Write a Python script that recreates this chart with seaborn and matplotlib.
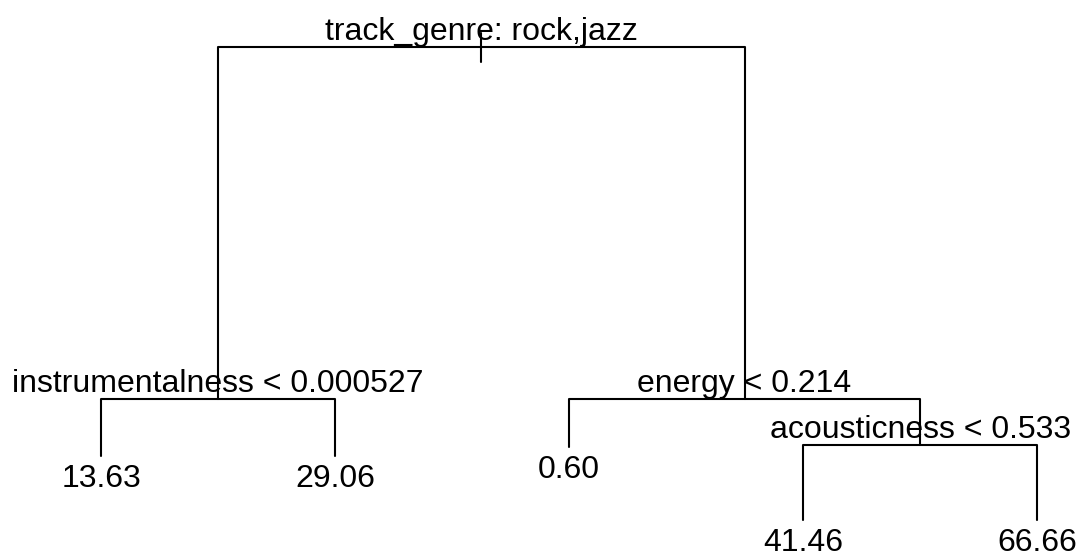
import matplotlib
matplotlib.use("Agg")
import matplotlib.pyplot as plt
import seaborn as sns
import pandas as pd

# Regression tree (rpart-style node numbering: children of n are 2n and 2n+1)
node_ids = [1, 2, 3, 4, 5, 6, 7, 14, 15]
node_labels = [
    "track_genre: rock,jazz",
    "instrumentalness < 0.000527",
    "energy < 0.214",
    "13.63",
    "29.06",
    "0.60",
    "acousticness < 0.533",
    "41.46",
    "66.66",
]
# vertical position of each node (scaled deviance)
node_height = [1.0, 0.307, 0.307, 0.195, 0.195, 0.213, 0.217, 0.069, 0.069]

sns.set_theme(style="white")
plt.rcParams["font.family"] = ["Liberation Sans", "DejaVu Sans"]

height = dict(zip(node_ids, node_height))
label = dict(zip(node_ids, node_labels))
is_leaf = {n: (2 * n not in height) for n in node_ids}

# leaves get consecutive positions in order; splits sit midway over children
xpos = {}
counter = [0]


def place(n):
    if is_leaf[n]:
        counter[0] += 1
        xpos[n] = float(counter[0])
    else:
        place(2 * n)
        place(2 * n + 1)
        xpos[n] = (xpos[2 * n] + xpos[2 * n + 1]) / 2


place(1)

# elbow branches: parent -> across at parent's height -> down to child
rows = []
for n in node_ids:
    if n == 1:
        continue
    p = n // 2
    for k, (x, y) in enumerate([(xpos[p], height[p]), (xpos[n], height[p]), (xpos[n], height[n])]):
        rows.append({"edge": n, "order": k, "x": x, "y": y})
# short stem through the root
rows.append({"edge": 1, "order": 0, "x": xpos[1], "y": height[1] + 0.028})
rows.append({"edge": 1, "order": 1, "x": xpos[1], "y": height[1] - 0.029})
edges = pd.DataFrame(rows)

fig = plt.figure(figsize=(10.82, 5.55), dpi=100)
ax = fig.add_axes([0, 0, 1, 1])
sns.lineplot(
    data=edges, x="x", y="y", units="edge", estimator=None, sort=False,
    color="black", linewidth=1.5, ax=ax, legend=False,
)

for n in node_ids:
    if is_leaf[n]:
        ax.annotate(label[n], (xpos[n], height[n]), xytext=(0, -22.5),
                    textcoords="offset points", ha="center", va="baseline",
                    fontsize=23, color="black")
    else:
        ax.annotate(label[n], (xpos[n], height[n]), xytext=(0, 5),
                    textcoords="offset points", ha="center", va="baseline",
                    fontsize=23, color="black")

ax.set_xlim(0.568, 5.192)
ax.set_ylim(0, 1.093)
ax.set_axis_off()
fig.savefig("out.png", dpi=100, facecolor="white")
